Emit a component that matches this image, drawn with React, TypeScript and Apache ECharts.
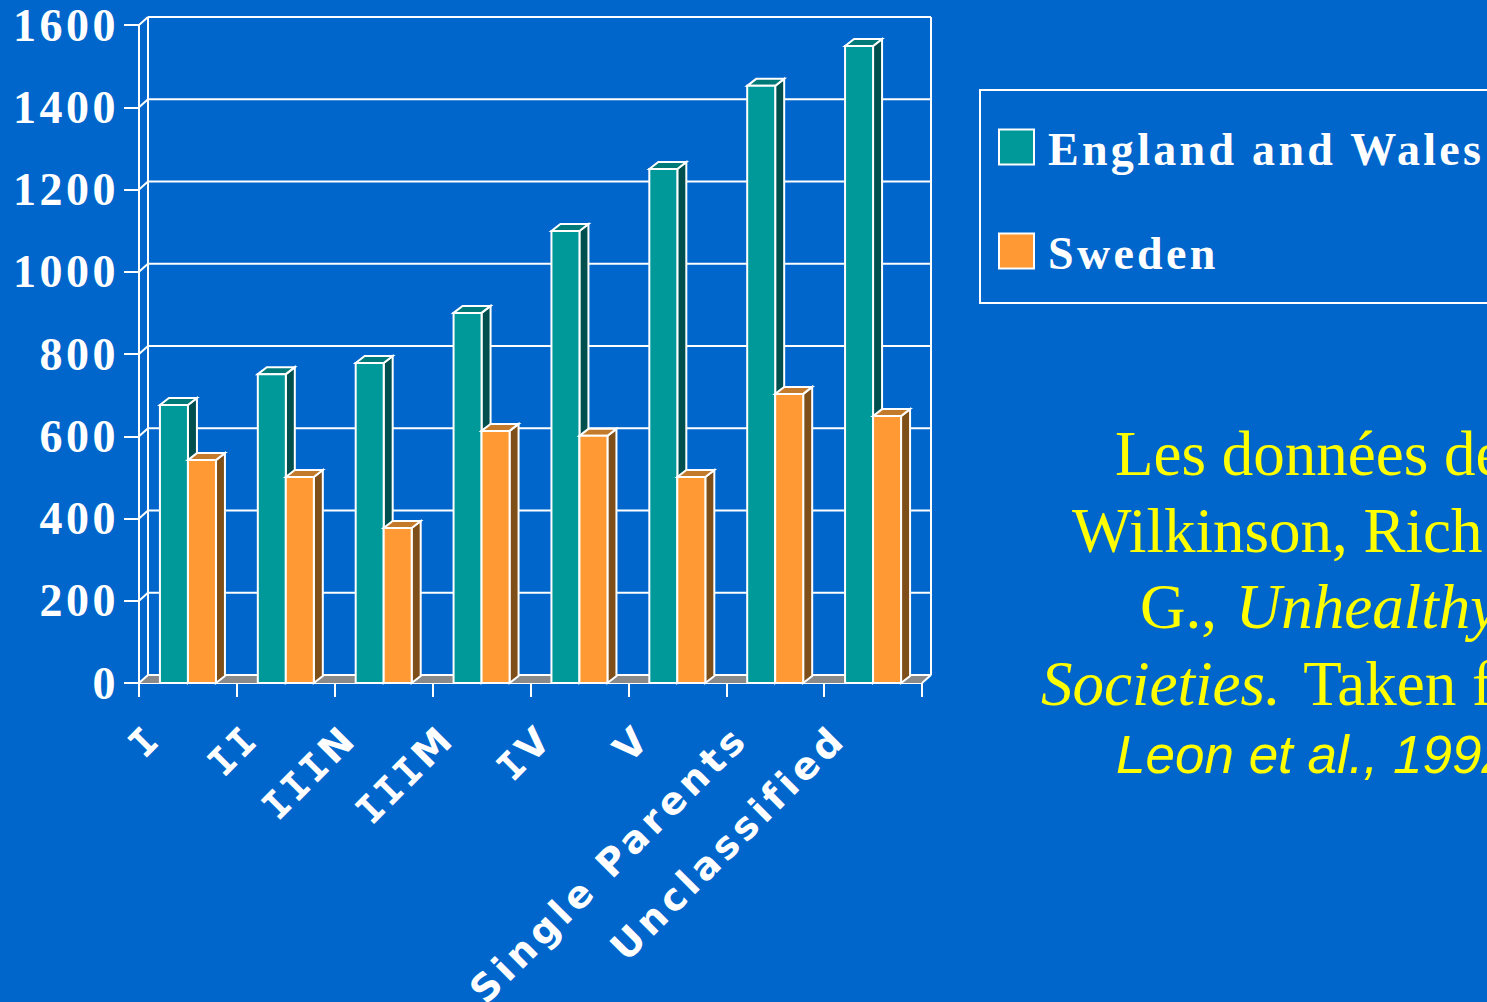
import React, { useEffect, useRef } from "react";
import * as echarts from "echarts";

const categories = ["I", "II", "IIIN", "IIIM", "IV", "V", "Single Parents", "Unclassified"];
const legendNames = ["England and Wales", "Sweden"];
const englandWales = [676, 751, 778, 900, 1099, 1250, 1452, 1549];
const sweden = [542, 501, 377, 613, 601, 501, 703, 649];
const yTicks = [0, 200, 400, 600, 800, 1000, 1200, 1400, 1600];

const BG = "#0066cc";
const WHITE = "#ffffff";
const YELLOW = "#ffff00";
const DX = 9;
const DY = -7;
const WALL_DY = -8;
const BAR_W = 28;

function bar3d(front: string, top: string, side: string, offset: number) {
  return (params: any, api: any) => {
    const idx = api.value(0);
    const val = api.value(1);
    const [cx, y1] = api.coord([idx, val]);
    const [, y0] = api.coord([idx, 0]);
    const x0 = cx + offset * BAR_W;
    const x1 = x0 + BAR_W;
    const line = { stroke: WHITE, lineWidth: 2, lineJoin: "miter" };
    return {
      type: "group",
      children: [
        {
          type: "polygon",
          shape: { points: [[x1, y1], [x1 + DX, y1 + DY], [x1 + DX, y0 + DY], [x1, y0]] },
          style: { fill: side, ...line },
        },
        {
          type: "polygon",
          shape: { points: [[x0, y1], [x0 + DX, y1 + DY], [x1 + DX, y1 + DY], [x1, y1]] },
          style: { fill: top, ...line },
        },
        {
          type: "rect",
          shape: { x: x0, y: y1, width: BAR_W, height: y0 - y1 },
          style: { fill: front, ...line },
        },
      ],
    };
  };
}

function renderWall(params: any, api: any) {
  const val = api.value(0);
  const band = api.size([1, 0])[0];
  const [cx0, y] = api.coord([0, val]);
  const left = cx0 - band / 2;
  const right = left + band * categories.length;
  const style = { stroke: WHITE, lineWidth: 2, fill: "none" };
  const children: any[] = [
    { type: "line", shape: { x1: left, y1: y, x2: left + DX, y2: y + WALL_DY }, style },
    { type: "line", shape: { x1: left + DX, y1: y + WALL_DY, x2: right + DX, y2: y + WALL_DY }, style },
  ];
  if (val === 0) {
    children.unshift({
      type: "polygon",
      shape: { points: [[left, y], [left + DX, y + WALL_DY], [right + DX, y + WALL_DY], [right, y]] },
      style: { fill: "#8a8a8a", stroke: "none" },
    });
    const [, yTop] = api.coord([0, yTicks[yTicks.length - 1]]);
    children.push(
      { type: "line", shape: { x1: left + DX, y1: y + WALL_DY, x2: left + DX, y2: yTop + WALL_DY }, style },
      { type: "line", shape: { x1: right + DX, y1: y + WALL_DY, x2: right + DX, y2: yTop + WALL_DY }, style },
      { type: "line", shape: { x1: right + DX, y1: y + WALL_DY, x2: right, y2: y }, style }
    );
  }
  return { type: "group", children };
}

const serifRich = {
  n: { fill: YELLOW, fontFamily: "Liberation Serif", fontSize: 63 },
  i: { fill: YELLOW, fontFamily: "Liberation Serif", fontSize: 63, fontStyle: "italic" },
  ip: { fill: YELLOW, fontFamily: "Liberation Serif", fontSize: 63, fontStyle: "italic", padding: [0, 0, 0, 3] },
  np: { fill: YELLOW, fontFamily: "Liberation Serif", fontSize: 63, padding: [0, 0, 0, 8] },
};

export default function App() {
  const ref = useRef<HTMLDivElement>(null);
  useEffect(() => {
    document.body.style.margin = "0";
    document.body.style.background = BG;
    const chart = echarts.init(ref.current!, undefined, { renderer: "svg" });
    chart.setOption({
      animation: false,
      backgroundColor: BG,
      grid: { left: 139, top: 25, width: 783, height: 658, containLabel: false },
      xAxis: {
        type: "category",
        data: categories,
        boundaryGap: true,
        axisLine: { lineStyle: { color: WHITE, width: 2 } },
        axisTick: { show: true, length: 14, lineStyle: { color: WHITE, width: 2 } },
        axisLabel: {
          interval: 0,
          rotate: 45,
          color: WHITE,
          fontFamily: "DejaVu Sans",
          fontWeight: "bold",
          fontSize: 38,
          margin: 15,
          padding: [0, 48, 0, 0],
        },
        splitLine: { show: false },
      },
      yAxis: {
        type: "value",
        min: 0,
        max: 1600,
        interval: 200,
        axisLine: { show: true, lineStyle: { color: WHITE, width: 2 } },
        axisTick: { show: true, length: 15, lineStyle: { color: WHITE, width: 2 } },
        axisLabel: {
          color: WHITE,
          fontFamily: "Liberation Serif",
          fontWeight: "bold",
          fontSize: 46,
          margin: 20,
          formatter: (v: number) => String(v),
        },
        splitLine: { show: false },
      },
      legend: {
        left: 993,
        top: 119,
        orient: "vertical",
        itemWidth: 35,
        itemHeight: 35,
        itemGap: 58,
        icon: "rect",
        selectedMode: false,
        data: legendNames,
        itemStyle: { borderColor: WHITE, borderWidth: 2 },
        textStyle: {
          color: WHITE,
          fontFamily: "Liberation Serif",
          fontWeight: "bold",
          fontSize: 46,
          padding: [0, 0, 0, 9],
        },
      },
      graphic: [
        {
          type: "rect",
          shape: { x: 980, y: 90, width: 530, height: 213 },
          style: { fill: "none", stroke: WHITE, lineWidth: 2 },
        },
        ...[
          { x: 1115, y: 454, t: "{n|Les données de}" },
          { x: 1072, y: 531, t: "{n|Wilkinson, Rich}" },
          { x: 1140, y: 607, t: "{n|G., }{ip|Unhealthy}" },
          { x: 1041, y: 684, t: "{i|Societies.}{np| Taken f}" },
        ].map((l) => ({
          type: "text",
          x: l.x,
          y: l.y,
          style: {
            text: l.t,
            fill: YELLOW,
            font: "63px 'Liberation Serif'",
            verticalAlign: "middle",
            rich: serifRich,
          },
        })),
        {
          type: "text",
          x: 1116,
          y: 754,
          style: {
            text: "Leon et al., 1992",
            fill: YELLOW,
            font: "italic 53px 'Liberation Sans'",
            verticalAlign: "middle",
          },
        },
      ],
      series: [
        {
          type: "custom",
          name: "wall",
          coordinateSystem: "cartesian2d",
          silent: true,
          encode: { y: 0 },
          data: yTicks.map((v) => [v]),
          renderItem: renderWall,
          z: 1,
        },
        {
          type: "custom",
          name: "England and Wales",
          coordinateSystem: "cartesian2d",
          itemStyle: { color: "#009999" },
          encode: { x: 0, y: 1 },
          data: englandWales.map((v, i) => [i, v]),
          renderItem: bar3d("#009999", "#007a78", "#004f4f", -1),
          z: 2,
        },
        {
          type: "custom",
          name: "Sweden",
          coordinateSystem: "cartesian2d",
          itemStyle: { color: "#ff9933" },
          encode: { x: 0, y: 1 },
          data: sweden.map((v, i) => [i, v]),
          renderItem: bar3d("#ff9933", "#c47a2b", "#7f4f1a", 0),
          z: 3,
        },
      ],
    });
    // Letter spacing for the slide's spaced bold labels, and the slab-serif capital I of the x labels.
    ref.current!.querySelectorAll("text").forEach((t) => {
      const fill = t.getAttribute("fill") || "";
      if (fill.toLowerCase() === WHITE || fill.includes("255,255,255") || fill === "#fff") {
        const content = t.textContent || "";
        t.style.letterSpacing = /^\d+$/.test(content) ? "3.5px" : "3.3px";
        if (legendNames.indexOf(content) >= 0) t.setAttribute("dy", "2");
        if (categories.indexOf(content) >= 6) t.style.letterSpacing = "4.5px";
        if (/^[IVNM]+$/.test(content)) {
          t.style.letterSpacing = "3.5px";
          const ns = "http://www.w3.org/2000/svg";
          t.textContent = "";
          for (const ch of content) {
            const span = document.createElementNS(ns, "tspan");
            span.textContent = ch;
            if (ch === "I") span.style.fontFamily = "'DejaVu Sans Mono'";
            t.appendChild(span);
          }
        }
      }
    });
    return () => chart.dispose();
  }, []);
  return (
    <div
      ref={ref}
      style={{ position: "fixed", left: 0, top: 0, width: 1487, height: 1002 }}
    />
  );
}
